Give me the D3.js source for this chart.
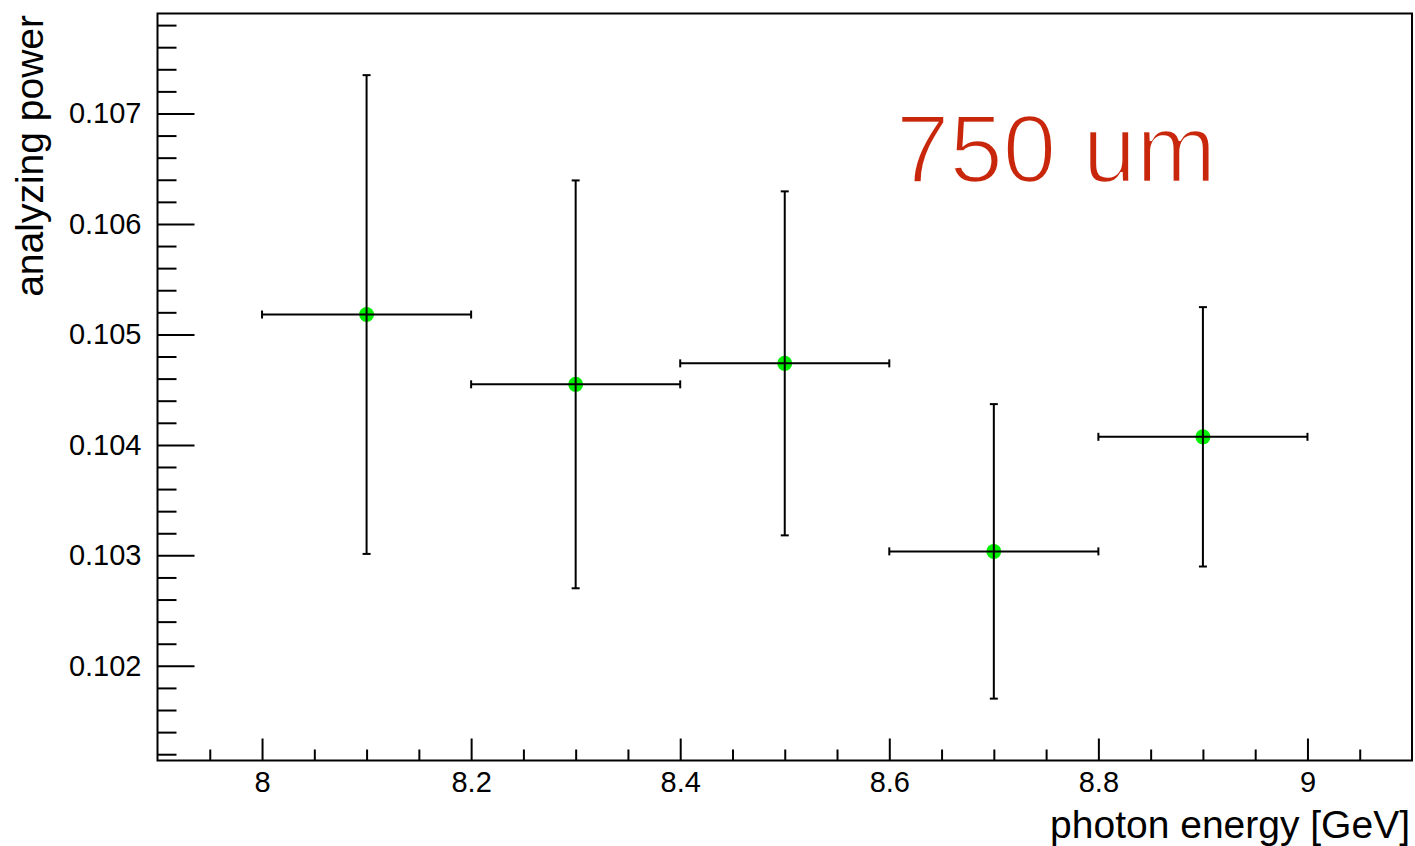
<!DOCTYPE html>
<html>
<head>
<meta charset="utf-8">
<script src="https://cdn.jsdelivr.net/npm/d3@7"></script>
<style>
  html, body { margin: 0; padding: 0; background: #fff; }
  svg { display: block; }
  text { font-family: "Liberation Sans", Arial, Helvetica, sans-serif; }
</style>
</head>
<body>
<svg id="chart" width="1415" height="846"></svg>
<script>
// Measured analyzing power per photon-energy bin
const energies = [8.1, 8.3, 8.5, 8.7, 8.9];
const energyHalfWidth = [0.1, 0.1, 0.1, 0.1, 0.1];
const power = [0.10518, 0.104548, 0.104738, 0.103036, 0.104073];
const powerErr = [0.002167, 0.001846, 0.001557, 0.001333, 0.001174];

const xMajorTicks = [8, 8.2, 8.4, 8.6, 8.8, 9];
const xTickLabels = ["8", "8.2", "8.4", "8.6", "8.8", "9"];
const yMajorTicks = [0.102, 0.103, 0.104, 0.105, 0.106, 0.107];
const yTickLabels = ["0.102", "0.103", "0.104", "0.105", "0.106", "0.107"];

const xDomain = [7.9, 9.1];
const yDomain = [0.101143, 0.107905];

const W = 1415, H = 846;
const frame = { left: 157.5, right: 1412, top: 13.5, bottom: 760.5 };

const svg = d3.select("#chart");

const x = d3.scaleLinear().domain(xDomain).range([frame.left, frame.right]);
const y = d3.scaleLinear().domain(yDomain).range([frame.bottom, frame.top]);

// minor tick positions
const xMinor = d3.range(0, 25).map(i => +(7.9 + 0.05 * i).toFixed(4))
  .filter(v => v > xDomain[0] && v < xDomain[1] && !xMajorTicks.some(m => Math.abs(m - v) < 1e-6));
const yMinor = d3.range(0, 40).map(i => +(0.1010 + 0.0002 * i).toFixed(5))
  .filter(v => v > yDomain[0] && v < yDomain[1] && !yMajorTicks.some(m => Math.abs(m - v) < 1e-7));

// frame
svg.append("rect")
  .attr("x", frame.left).attr("y", frame.top)
  .attr("width", frame.right - frame.left).attr("height", frame.bottom - frame.top)
  .attr("fill", "none").attr("stroke", "#000").attr("stroke-width", 2);

// x axis: ticks point inward
const xAxisMinor = d3.axisBottom(x).tickValues(xMinor).tickSize(-11).tickFormat("");
const xAxisMajor = d3.axisBottom(x).tickValues(xMajorTicks).tickSize(-22)
  .tickPadding(31).tickFormat((d, i) => xTickLabels[i]);

const gxMinor = svg.append("g").attr("transform", `translate(0,${frame.bottom})`).call(xAxisMinor);
const gxMajor = svg.append("g").attr("transform", `translate(0,${frame.bottom})`).call(xAxisMajor);
[gxMinor, gxMajor].forEach(g => {
  g.select(".domain").remove();
  g.selectAll(".tick line").attr("stroke", "#000").attr("stroke-width", 2);
});
gxMajor.selectAll(".tick text")
  .attr("font-size", 29).attr("fill", "#000")
  .attr("dy", "0em");

// y axis: ticks point inward
const yAxisMinor = d3.axisLeft(y).tickValues(yMinor).tickSize(-19).tickFormat("");
const yAxisMajor = d3.axisLeft(y).tickValues(yMajorTicks).tickSize(-37)
  .tickPadding(16).tickFormat((d, i) => yTickLabels[i]);

const gyMinor = svg.append("g").attr("transform", `translate(${frame.left},0)`).call(yAxisMinor);
const gyMajor = svg.append("g").attr("transform", `translate(${frame.left},0)`).call(yAxisMajor);
[gyMinor, gyMajor].forEach(g => {
  g.select(".domain").remove();
  g.selectAll(".tick line").attr("stroke", "#000").attr("stroke-width", 2);
});
gyMajor.selectAll(".tick text")
  .attr("font-size", 29).attr("fill", "#000");

// axis titles
svg.append("text")
  .attr("x", 1410).attr("y", 838)
  .attr("text-anchor", "end")
  .attr("font-size", 39)
  .attr("fill", "#000")
  .text("photon energy [GeV]");

svg.append("text")
  .attr("transform", "translate(43,15) rotate(-90)")
  .attr("text-anchor", "end")
  .attr("font-size", 39)
  .attr("fill", "#000")
  .text("analyzing power");

// annotation, thin strokes
svg.append("text")
  .attr("x", 896).attr("y", 182)
  .attr("font-size", 96)
  .attr("fill", "#c9270c")
  .attr("stroke", "#fff")
  .attr("stroke-width", 2.6)
  .attr("paint-order", "fill")
  .text("750 um");

// data points
const pts = energies.map((e, i) => ({
  x: e, dx: energyHalfWidth[i], y: power[i], dy: powerErr[i]
}));

const gPts = svg.append("g");

gPts.selectAll("circle").data(pts).join("circle")
  .attr("cx", d => x(d.x)).attr("cy", d => y(d.y))
  .attr("r", 7.5).attr("fill", "#00f000");

const gErr = svg.append("g").attr("stroke", "#000").attr("stroke-width", 2).attr("fill", "none");
const capV = 4, capH = 4;

pts.forEach(d => {
  const cx = x(d.x), cy = y(d.y);
  const x0 = x(d.x - d.dx), x1 = x(d.x + d.dx);
  const y0 = y(d.y - d.dy), y1 = y(d.y + d.dy);
  // horizontal bar with end ticks
  gErr.append("line").attr("x1", x0).attr("x2", x1).attr("y1", cy).attr("y2", cy);
  gErr.append("line").attr("x1", x0).attr("x2", x0).attr("y1", cy - capV).attr("y2", cy + capV);
  gErr.append("line").attr("x1", x1).attr("x2", x1).attr("y1", cy - capV).attr("y2", cy + capV);
  // vertical bar with end caps
  gErr.append("line").attr("x1", cx).attr("x2", cx).attr("y1", y0).attr("y2", y1);
  gErr.append("line").attr("x1", cx - capH).attr("x2", cx + capH).attr("y1", y0).attr("y2", y0);
  gErr.append("line").attr("x1", cx - capH).attr("x2", cx + capH).attr("y1", y1).attr("y2", y1);
});
</script>
</body>
</html>
